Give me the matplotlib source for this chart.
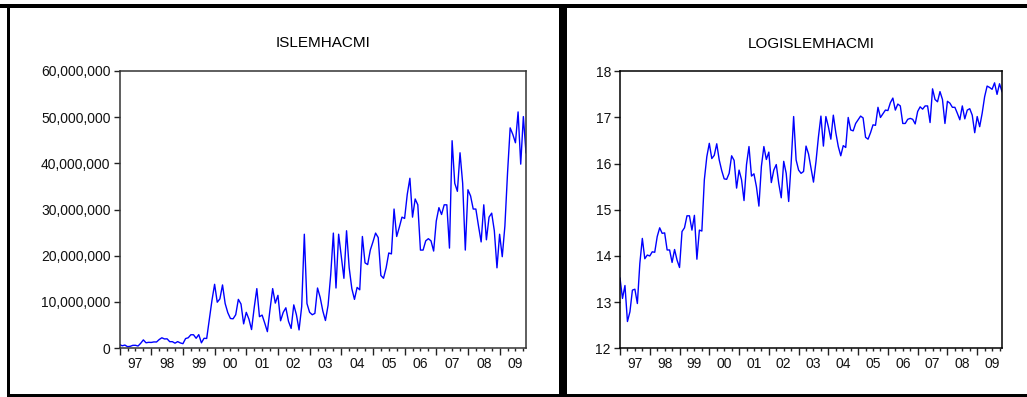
import numpy as np
import matplotlib
matplotlib.use('Agg')
import matplotlib.pyplot as plt
from matplotlib.patches import Rectangle
from matplotlib.ticker import FuncFormatter, FixedLocator

plt.rcParams['font.family'] = ['Liberation Sans', 'DejaVu Sans']

# monthly data, 1997M01 - 2009M11 (log of trading volume)
log_1997 = [13.52, 13.08, 13.36, 12.58, 12.79, 13.26, 13.28, 12.97, 13.84, 14.38, 13.94, 14.02]
log_1998 = [14.00, 14.09, 14.08, 14.42, 14.61, 14.49, 14.50, 14.13, 14.13, 13.86, 14.14, 13.91]
log_1999 = [13.75, 14.53, 14.61, 14.87, 14.87, 14.56, 14.88, 13.93, 14.56, 14.54, 15.65, 16.15]
log_2000 = [16.44, 16.11, 16.18, 16.43, 16.08, 15.85, 15.67, 15.66, 15.79, 16.17, 16.07, 15.47]
log_2001 = [15.86, 15.65, 15.20, 15.98, 16.37, 15.73, 15.78, 15.50, 15.08, 15.94, 16.37, 16.09]
log_2002 = [16.25, 15.59, 15.86, 15.98, 15.57, 15.26, 16.05, 15.79, 15.18, 16.01, 17.02, 16.08]
log_2003 = [15.86, 15.79, 15.83, 16.38, 16.21, 15.90, 15.60, 16.04, 16.58, 17.03, 16.38, 17.02]
log_2004 = [16.80, 16.53, 17.05, 16.67, 16.37, 16.17, 16.39, 16.35, 17.00, 16.73, 16.71, 16.87]
log_2005 = [16.95, 17.03, 16.99, 16.57, 16.53, 16.67, 16.84, 16.83, 17.22, 17.00, 17.08, 17.16]
log_2006 = [17.15, 17.32, 17.42, 17.16, 17.29, 17.25, 16.87, 16.87, 16.96, 16.98, 16.96, 16.86]
log_2007 = [17.13, 17.23, 17.18, 17.25, 17.25, 16.89, 17.62, 17.39, 17.34, 17.56, 17.39, 16.87]
log_2008 = [17.35, 17.31, 17.22, 17.22, 17.09, 16.95, 17.25, 16.97, 17.16, 17.19, 17.05, 16.67]
log_2009 = [17.02, 16.80, 17.09, 17.45, 17.68, 17.65, 17.61, 17.75, 17.50, 17.73, 17.56]

year_labels = ['97', '98', '99', '00', '01', '02', '03', '04', '05', '06', '07', '08', '09']

logvol = np.array(log_1997 + log_1998 + log_1999 + log_2000 + log_2001 + log_2002 + log_2003
                  + log_2004 + log_2005 + log_2006 + log_2007 + log_2008 + log_2009)
vol = np.exp(logvol)   # ISLEMHACMI = exp(LOGISLEMHACMI)
t = np.arange(len(logvol))

W, H = 1027, 397
fig = plt.figure(figsize=(W / 100, H / 100), dpi=100)


def fx(px):
    return px / W


def fy(py):
    return 1 - py / H


# panel frames (black borders around the two panels)
def frect(x0, y0, x1, y1):
    fig.patches.append(Rectangle((fx(x0), fy(y1)), fx(x1) - fx(x0), fy(y0) - fy(y1),
                                 transform=fig.transFigure, color='black', lw=0, zorder=0))


frect(0, 4.5, W, 7.5)
frect(7, 4.5, 10, H)
frect(7, 393.5, W, 396.5)
frect(559, 4.5, 567, H)


def setup_axis(ax, y, title, sp_color):
    ax.plot(t, y, color='#0000ff', lw=1.0)
    ax.set_xlim(0, len(t) - 1)
    ax.set_title(title, fontsize=11, pad=17)
    for s in ax.spines.values():
        s.set_color(sp_color)
        s.set_linewidth(1.1)
    ax.xaxis.set_major_locator(FixedLocator(np.arange(0, len(t), 12)))
    ax.xaxis.set_minor_locator(FixedLocator([m for m in range(0, len(t), 3) if m % 12 != 0]))
    ax.set_xticklabels([])
    ax.tick_params(axis='x', which='major', direction='out', length=5, width=1, colors='#222222')
    ax.tick_params(axis='x', which='minor', direction='out', length=2.5, width=1, colors='#222222')
    ax.tick_params(axis='y', direction='out', length=4.5, width=1, colors='#222222',
                   labelsize=10, labelcolor='#111111', pad=2)
    for i, lab in enumerate(year_labels):
        ax.text(6 + 12 * i, -0.033, lab, transform=ax.get_xaxis_transform(),
                ha='center', va='top', fontsize=10, color='#111111')


ax1 = fig.add_axes([fx(119.6), fy(348), fx(526) - fx(119.6), fy(71) - fy(348)])
setup_axis(ax1, vol, 'ISLEMHACMI', '#333333')
ax1.set_ylim(0, 60000000)
ax1.set_yticks(np.arange(0, 60000001, 10000000))
ax1.yaxis.set_major_formatter(FuncFormatter(lambda v, p: '{:,.0f}'.format(v)))

ax2 = fig.add_axes([fx(620), fy(348.3), fx(1002) - fx(620), fy(71.3) - fy(348.3)])
setup_axis(ax2, logvol, 'LOGISLEMHACMI', 'black')
ax2.set_ylim(12, 18)
ax2.set_yticks(np.arange(12, 19, 1))

fig.savefig('out.png', dpi=100)
